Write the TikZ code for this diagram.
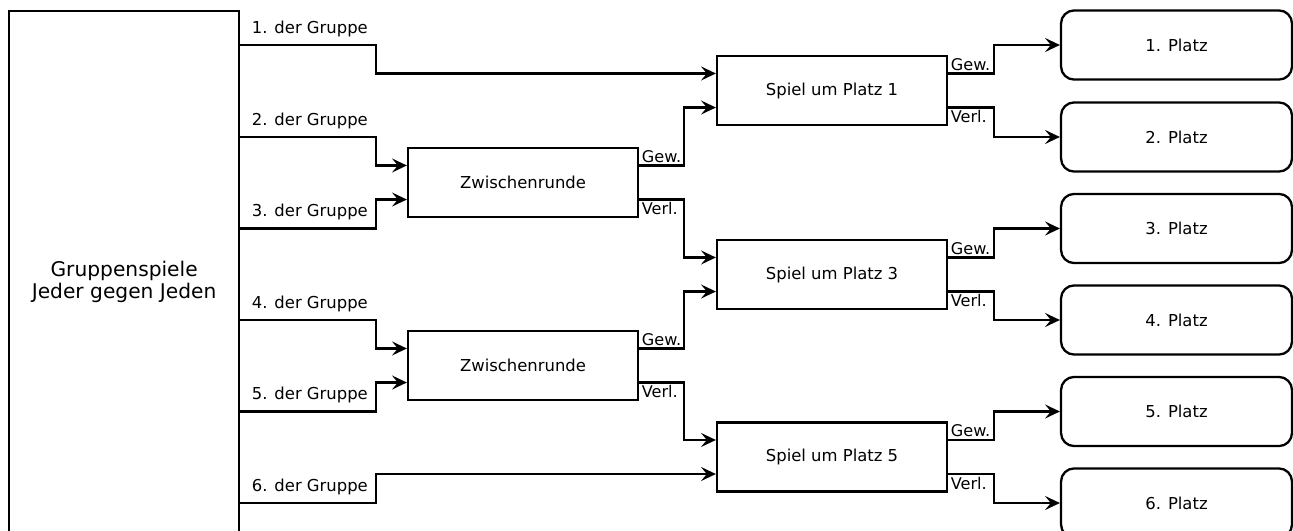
\documentclass[tikz,border=0pt]{standalone}
\usepackage{fontspec}
\setmainfont{DejaVu Sans}
\usetikzlibrary{arrows.meta,calc}

\begin{document}
\begin{tikzpicture}[x=0.0214cm,y=-0.0214cm,line width=1.4pt,
    >={Stealth[length=9pt,width=8.5pt,inset=3.5pt]},
    kasten/.style={draw,minimum width=4.92cm,minimum height=1.47cm,font=\fontsize{10}{12}\selectfont},
    platz/.style={kasten,rounded corners=0.28cm,minimum width=4.94cm,minimum height=1.48cm},
    grp/.style={above right,xshift=3pt,yshift=1pt,font=\fontsize{10}{12}\selectfont},
    gew/.style={above right,inner sep=1pt,font=\fontsize{9.8}{11}\selectfont},
    verl/.style={below right,inner sep=1pt,font=\fontsize{9.8}{11}\selectfont}]
      \clip (0,0) rectangle (1293,530);
      \node[draw,anchor=north west,minimum width=4.92cm,minimum height=11.6cm,align=center,
            font=\fontsize{12.3}{13.4}\selectfont] (gruppen) at (8,10) {Gruppenspiele\\Jeder gegen Jeden};
      \foreach \i/\y in {1/45,2/137,3/228.5,4/320,5/411.5,6/503}{
        \node[platz] (p\i) at (1176.5,\y) {\i. Platz};
        \coordinate (g\i) at (gruppen.east |- 0,\y);
      }
      \node[kasten] (zr1) at (523,182.5) {Zwischenrunde};
      \node[kasten] (zr2) at (523,365.5) {Zwischenrunde};
      \node[kasten] (sp1) at (832,90.5) {Spiel um Platz 1};
      \node[kasten] (sp3) at (832,274.5) {Spiel um Platz 3};
      \node[kasten] (sp5) at (832,457) {Spiel um Platz 5};
      % aus der Gruppe
      \draw[->] (g1) node[grp]{1. der Gruppe} -- ++(136,0) |- ([yshift=.364cm]sp1.west);
      \draw[->] (g2) node[grp]{2. der Gruppe} -- ++(136,0) |- ([yshift=.364cm]zr1.west);
      \draw[->] (g3) node[grp]{3. der Gruppe} -- ++(136,0) |- ([yshift=-.364cm]zr1.west);
      \draw[->] (g4) node[grp]{4. der Gruppe} -- ++(136,0) |- ([yshift=.364cm]zr2.west);
      \draw[->] (g5) node[grp]{5. der Gruppe} -- ++(136,0) |- ([yshift=-.364cm]zr2.west);
      \draw[->] (g6) node[grp]{6. der Gruppe} -- ++(136,0) |- ([yshift=-.364cm]sp5.west);
      % Zwischenrunden
      \draw[->] ([yshift=.364cm]zr1.east) node[gew]{Gew.} -- ++(45,0) |- ([yshift=-.364cm]sp1.west);
      \draw[->] ([yshift=-.364cm]zr1.east) node[verl]{Verl.} -- ++(45,0) |- ([yshift=.364cm]sp3.west);
      \draw[->] ([yshift=.364cm]zr2.east) node[gew]{Gew.} -- ++(45,0) |- ([yshift=-.364cm]sp3.west);
      \draw[->] ([yshift=-.364cm]zr2.east) node[verl]{Verl.} -- ++(45,0) |- ([yshift=.364cm]sp5.west);
      % Platzierungen
      \draw[->] ([yshift=.364cm]sp1.east) node[gew]{Gew.} -- ++(46,0) |- (p1);
      \draw[->] ([yshift=-.364cm]sp1.east) node[verl]{Verl.} -- ++(46,0) |- (p2);
      \draw[->] ([yshift=.364cm]sp3.east) node[gew]{Gew.} -- ++(46,0) |- (p3);
      \draw[->] ([yshift=-.364cm]sp3.east) node[verl]{Verl.} -- ++(46,0) |- (p4);
      \draw[->] ([yshift=.364cm]sp5.east) node[gew]{Gew.} -- ++(46,0) |- (p5);
      \draw[->] ([yshift=-.364cm]sp5.east) node[verl]{Verl.} -- ++(46,0) |- (p6);
    \end{tikzpicture}
\end{document}
